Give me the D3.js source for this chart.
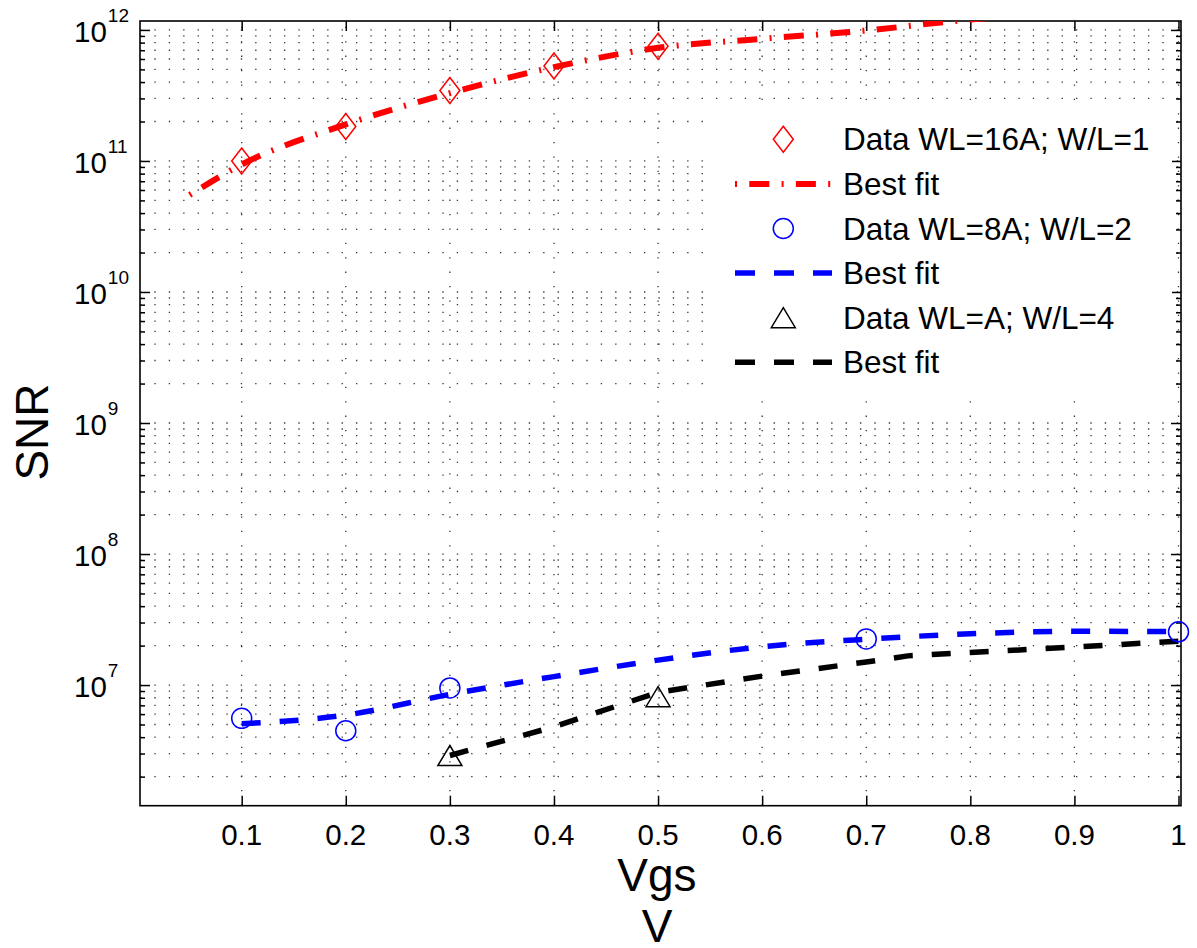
<!DOCTYPE html>
<html>
<head>
<meta charset="utf-8">
<script src="https://cdn.jsdelivr.net/npm/d3@7"></script>
<style>
  body { margin: 0; background: #fff; }
  svg { display: block; font-family: "Liberation Sans", Arial, Helvetica, sans-serif; }
</style>
</head>
<body>
<svg id="chart" width="1197" height="948"></svg>
<script>
// data
var redX = [0.1, 0.2, 0.3, 0.4, 0.5];
var redY = [1.0e11, 1.83e11, 3.45e11, 5.3e11, 7.5e11];
var redFitX = [0.05, 0.1, 0.2, 0.3, 0.4, 0.5, 0.6, 0.7, 0.8, 0.9, 1.0];
var redFitY = [5.5e10, 9.4e10, 1.9e11, 3.3e11, 5.2e11, 7.3e11, 8.55e11, 9.9e11, 1.2e12, 1.35e12, 1.5e12];

var blueX = [0.1, 0.2, 0.3, 0.7, 1.0];
var blueY = [5.57e6, 4.48e6, 9.5e6, 2.25e7, 2.55e7];
var blueFitX = [0.1, 0.2, 0.3, 0.4, 0.5, 0.6, 0.7, 0.8, 0.9, 1.0];
var blueFitY = [5.07e6, 5.9e6, 8.5e6, 1.16e7, 1.55e7, 1.96e7, 2.24e7, 2.46e7, 2.57e7, 2.56e7];

var blackX = [0.3, 0.5];
var blackY = [2.9e6, 8.15e6];
var blackFitX = [0.3, 0.4, 0.5, 0.6, 0.7, 0.74, 0.8, 0.9, 1.0];
var blackFitY = [2.9e6, 4.8e6, 8.8e6, 1.17e7, 1.5e7, 1.67e7, 1.77e7, 1.95e7, 2.16e7];

var xTicks = [0.1, 0.2, 0.3, 0.4, 0.5, 0.6, 0.7, 0.8, 0.9, 1.0];
var xTickLabels = ["0.1", "0.2", "0.3", "0.4", "0.5", "0.6", "0.7", "0.8", "0.9", "1"];
var yExponents = [7, 8, 9, 10, 11, 12];

var legendLabels = ["Data WL=16A; W/L=1", "Best fit", "Data WL=8A; W/L=2", "Best fit", "Data WL=A; W/L=4", "Best fit"];

var svg = d3.select("#chart");

var axLeft = 140, axRight = 1181, axTop = 21, axBottom = 805.7;

var x = d3.scaleLinear().domain([0.0023, 1.0024]).range([axLeft, axRight]);
var y = d3.scaleLog().domain([1.2e6, 1.17e12]).range([axBottom, axTop]);

var yMajor = yExponents.map(function(e){ return Math.pow(10, e); });
var yMinor = [];
d3.range(6, 12).forEach(function(e){
  d3.range(2, 10).forEach(function(m){
    var v = m * Math.pow(10, e);
    if (v >= 1.2e6 && v <= 1.17e12) yMinor.push(v);
  });
});
var yAll = yMajor.concat(yMinor);

// grid (dotted, like matlab ':')
var grid = svg.append("g").attr("class", "grid")
  .attr("stroke", "#333").attr("stroke-width", 1.3)
  .attr("stroke-dasharray", "1.3,13.1");

grid.selectAll("line.h").data(yAll).enter().append("line")
  .attr("class", "h")
  .attr("x1", axLeft).attr("x2", axRight)
  .attr("y1", function(d){ return y(d); }).attr("y2", function(d){ return y(d); });

grid.selectAll("line.v").data(xTicks).enter().append("line")
  .attr("class", "v")
  .attr("x1", function(d){ return x(d); }).attr("x2", function(d){ return x(d); })
  .attr("y1", axBottom).attr("y2", axTop);

// axes ticks (inward)
function strip(g){ g.select(".domain").remove(); g.selectAll("text").remove(); }

svg.append("g").attr("transform", "translate(0," + axBottom + ")")
  .call(d3.axisBottom(x).tickValues(xTicks).tickSizeInner(-10).tickSizeOuter(0).tickFormat(""))
  .call(strip);
svg.append("g").attr("transform", "translate(0," + axTop + ")")
  .call(d3.axisTop(x).tickValues(xTicks).tickSizeInner(-10).tickSizeOuter(0).tickFormat(""))
  .call(strip);
svg.append("g").attr("transform", "translate(" + axLeft + ",0)")
  .call(d3.axisLeft(y).tickValues(yMajor).tickSizeInner(-10).tickSizeOuter(0).tickFormat(""))
  .call(strip);
svg.append("g").attr("transform", "translate(" + axLeft + ",0)")
  .call(d3.axisLeft(y).tickValues(yMinor).tickSizeInner(-5).tickSizeOuter(0).tickFormat(""))
  .call(strip);
svg.append("g").attr("transform", "translate(" + axRight + ",0)")
  .call(d3.axisRight(y).tickValues(yMajor).tickSizeInner(-10).tickSizeOuter(0).tickFormat(""))
  .call(strip);
svg.append("g").attr("transform", "translate(" + axRight + ",0)")
  .call(d3.axisRight(y).tickValues(yMinor).tickSizeInner(-5).tickSizeOuter(0).tickFormat(""))
  .call(strip);
svg.selectAll(".tick line").attr("stroke", "#000").attr("stroke-width", 1.5);

// tick labels
svg.append("g").selectAll("text").data(xTicks).enter().append("text")
  .attr("x", function(d){ return x(d); })
  .attr("y", 845)
  .attr("text-anchor", "middle")
  .attr("font-size", "29.5px")
  .text(function(d, i){ return xTickLabels[i]; });

var yLab = svg.append("g").selectAll("text").data(yMajor).enter().append("text")
  .attr("x", 74)
  .attr("y", function(d){ return y(d) + 12.3; })
  .attr("font-size", "29.5px");
yLab.append("tspan").text("10");
yLab.append("tspan")
  .attr("font-size", "19px")
  .attr("dx", 1)
  .attr("dy", -20)
  .text(function(d){ return Math.round(Math.log10(d)); });

// frame
svg.append("rect")
  .attr("x", axLeft).attr("y", axTop)
  .attr("width", axRight - axLeft).attr("height", axBottom - axTop)
  .attr("fill", "none").attr("stroke", "#000").attr("stroke-width", 1.6);

// clip for fit lines
svg.append("clipPath").attr("id", "plotclip")
  .append("rect").attr("x", axLeft).attr("y", axTop)
  .attr("width", axRight - axLeft).attr("height", axBottom - axTop);

var line = d3.line()
  .x(function(d){ return x(d[0]); })
  .y(function(d){ return y(d[1]); });

var plot = svg.append("g").attr("clip-path", "url(#plotclip)");

plot.append("path")
  .datum(d3.zip(redFitX, redFitY))
  .attr("d", line.curve(d3.curveMonotoneX))
  .attr("fill", "none").attr("stroke", "#ff0000").attr("stroke-width", 6)
  .attr("stroke-dasharray", "2,12.3,20,12.3");

plot.append("path")
  .datum(d3.zip(blueFitX, blueFitY))
  .attr("d", line.curve(d3.curveMonotoneX))
  .attr("fill", "none").attr("stroke", "#0000ff").attr("stroke-width", 5.5)
  .attr("stroke-dasharray", "19,19");

plot.append("path")
  .datum(d3.zip(blackFitX, blackFitY))
  .attr("d", line.curve(d3.curveLinear))
  .attr("fill", "none").attr("stroke", "#000").attr("stroke-width", 5.5)
  .attr("stroke-dasharray", "19,19");

// markers
var diamond = "M0,-13L10,0L0,13L-10,0Z";
var triangle = "M0,-10L12,10L-12,10Z";

svg.append("g").selectAll("path").data(d3.zip(redX, redY)).enter().append("path")
  .attr("d", diamond)
  .attr("transform", function(d){ return "translate(" + x(d[0]) + "," + y(d[1]) + ")"; })
  .attr("fill", "none").attr("stroke", "#ff0000").attr("stroke-width", 1.5);

svg.append("g").selectAll("circle").data(d3.zip(blueX, blueY)).enter().append("circle")
  .attr("cx", function(d){ return x(d[0]); })
  .attr("cy", function(d){ return y(d[1]); })
  .attr("r", 10)
  .attr("fill", "none").attr("stroke", "#0000ff").attr("stroke-width", 1.5);

svg.append("g").selectAll("path").data(d3.zip(blackX, blackY)).enter().append("path")
  .attr("d", triangle)
  .attr("transform", function(d){ return "translate(" + x(d[0]) + "," + y(d[1]) + ")"; })
  .attr("fill", "none").attr("stroke", "#000").attr("stroke-width", 1.5);

// legend
var legend = svg.append("g");
legend.append("rect")
  .attr("x", 704).attr("y", 101).attr("width", 468).attr("height", 297)
  .attr("fill", "#fff");

var rowY = function(i){ return 139.3 + i * 44.6; };
var lx1 = 735, lx2 = 832, lmx = 783.3;

legend.append("path").attr("d", diamond)
  .attr("transform", "translate(" + lmx + "," + rowY(0) + ")")
  .attr("fill", "none").attr("stroke", "#ff0000").attr("stroke-width", 1.5);
legend.append("line").attr("x1", lx1).attr("x2", lx2).attr("y1", rowY(1)).attr("y2", rowY(1))
  .attr("stroke", "#ff0000").attr("stroke-width", 6).attr("stroke-dasharray", "2,12.3,20,12.3");
legend.append("circle").attr("cx", lmx).attr("cy", rowY(2)).attr("r", 10)
  .attr("fill", "none").attr("stroke", "#0000ff").attr("stroke-width", 1.5);
legend.append("line").attr("x1", lx1).attr("x2", lx2).attr("y1", rowY(3)).attr("y2", rowY(3))
  .attr("stroke", "#0000ff").attr("stroke-width", 5.5).attr("stroke-dasharray", "20,19");
legend.append("path").attr("d", triangle)
  .attr("transform", "translate(" + lmx + "," + rowY(4) + ")")
  .attr("fill", "none").attr("stroke", "#000").attr("stroke-width", 1.5);
legend.append("line").attr("x1", lx1).attr("x2", lx2).attr("y1", rowY(5)).attr("y2", rowY(5))
  .attr("stroke", "#000").attr("stroke-width", 5.5).attr("stroke-dasharray", "20,19");

legend.selectAll("text").data(legendLabels).enter().append("text")
  .attr("x", 843)
  .attr("y", function(d, i){ return rowY(i) + 11; })
  .attr("font-size", "31.5px")
  .text(function(d){ return d; });

// axis titles
svg.append("text")
  .attr("transform", "translate(48,432) rotate(-90)")
  .attr("text-anchor", "middle")
  .attr("font-size", "46px")
  .text("SNR");

svg.append("text")
  .attr("x", 657).attr("y", 891)
  .attr("text-anchor", "middle")
  .attr("font-size", "46px")
  .text("Vgs");
svg.append("text")
  .attr("x", 657).attr("y", 942)
  .attr("text-anchor", "middle")
  .attr("font-size", "46px")
  .text("V");
</script>
</body>
</html>
